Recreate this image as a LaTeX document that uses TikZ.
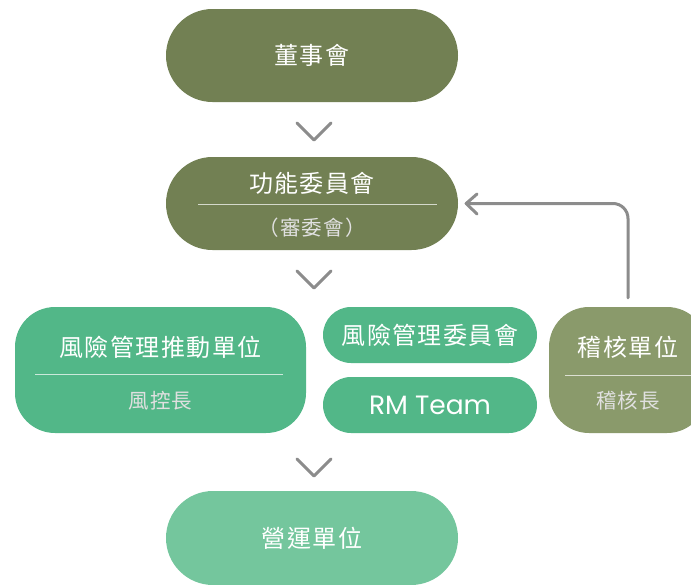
\documentclass[tikz,border=0pt]{standalone}
\usepackage{fontspec}
\newfontfamily\cjk{Noto Sans CJK TC}[LetterSpace=6]
\newfontfamily\pop{Poppins}
\definecolor{olivebox}{HTML}{728053}
\definecolor{greenbox}{HTML}{52B788}
\definecolor{auditbox}{HTML}{8A9A6B}
\definecolor{opbox}{HTML}{74C69D}
\definecolor{chev}{HTML}{8C8C8C}
\tikzset{
  pill/.style={rectangle, inner sep=0pt, draw=none},
  titletext/.style={text=white, font=\cjk\fontsize{24}{28}\selectfont, inner sep=0pt},
  subtext/.style={text=white!88!black, font=\cjk\fontsize{20.5}{24}\selectfont, inner sep=0pt},
  divider/.style={draw=white, opacity=0.7, line width=0.8pt},
  chevron/.style={draw=chev, line width=3pt, line cap=round, line join=round},
  backarrow/.style={draw=chev, line width=3pt, line cap=round, line join=round, rounded corners=15pt}
}
\begin{document}
\begin{tikzpicture}[x=1pt,y=-1pt]
\useasboundingbox (0,0) rectangle (691,584);
\clip (0,0) rectangle (691,584);
% board
\node[pill, fill=olivebox, minimum width=292pt, minimum height=93pt, rounded corners=46.5pt] (board) at (312,55.5) {};
\node[titletext] (boardt) at (board.center) {董事會};
% chevron 1
\coordinate (c1a) at (297,123); \coordinate (c1b) at (314,140); \coordinate (c1c) at (331,123);
\draw[chevron] (c1a) -- (c1b) -- (c1c);
% function committee
\node[pill, fill=olivebox, minimum width=292pt, minimum height=93pt, rounded corners=46.5pt] (func) at (312,203.5) {};
\node[titletext] (funct) at (312,183) {功能委員會};
\node[subtext] (funcs) at (312,228) {（審委會）};
\coordinate (fl1) at (198,204); \coordinate (fl2) at (437,204);
\draw[divider] (fl1) -- (fl2);
% chevron 2
\coordinate (c2a) at (297,271); \coordinate (c2b) at (314,288); \coordinate (c2c) at (331,271);
\draw[chevron] (c2a) -- (c2b) -- (c2c);
% risk management promotion unit
\node[pill, fill=greenbox, minimum width=291pt, minimum height=126pt, rounded corners=40pt] (rmu) at (160.5,370) {};
\node[titletext] (rmut) at (160.5,347) {風險管理推動單位};
\node[subtext] (rmus) at (160.5,401) {風控長};
\coordinate (rl1) at (35,374); \coordinate (rl2) at (283,374);
\draw[divider] (rl1) -- (rl2);
% RM committee
\node[pill, fill=greenbox, minimum width=214pt, minimum height=56pt, rounded corners=28pt, text=white, font=\cjk\fontsize{24}{28}\selectfont] (rmc) at (430,335) {風險管理委員會};
% RM team
\node[pill, fill=greenbox, minimum width=214pt, minimum height=56pt, rounded corners=28pt, text=white, font=\pop\fontsize{26.5}{30}\selectfont] (rmt) at (430,405) {RM Team};
% audit unit
\node[pill, fill=auditbox, minimum width=158pt, minimum height=126pt, rounded corners=40pt] (aud) at (628,370) {};
\node[titletext] (audt) at (628,347) {稽核單位};
\node[subtext] (auds) at (628,401) {稽核長};
\coordinate (al1) at (565,375); \coordinate (al2) at (700,375);
\draw[divider] (al1) -- (al2);
% chevron 3
\coordinate (c3a) at (297,459); \coordinate (c3b) at (314,476); \coordinate (c3c) at (331,459);
\draw[chevron] (c3a) -- (c3b) -- (c3c);
% operating unit
\node[pill, fill=opbox, minimum width=292pt, minimum height=94pt, rounded corners=47pt] (ops) at (312,538) {};
\node[titletext] (opst) at (ops.center) {營運單位};
% back arrow from audit to function committee
\coordinate (arrstart) at ([yshift=9pt]aud.north);
\coordinate (arrend) at ([xshift=8pt]func.east);
\draw[backarrow] (arrstart) |- (arrend);
\coordinate (ah1) at (477,194); \coordinate (ah2) at (477,214);
\draw[chevron] (ah1) -- (arrend) -- (ah2);
\end{tikzpicture}
\end{document}
